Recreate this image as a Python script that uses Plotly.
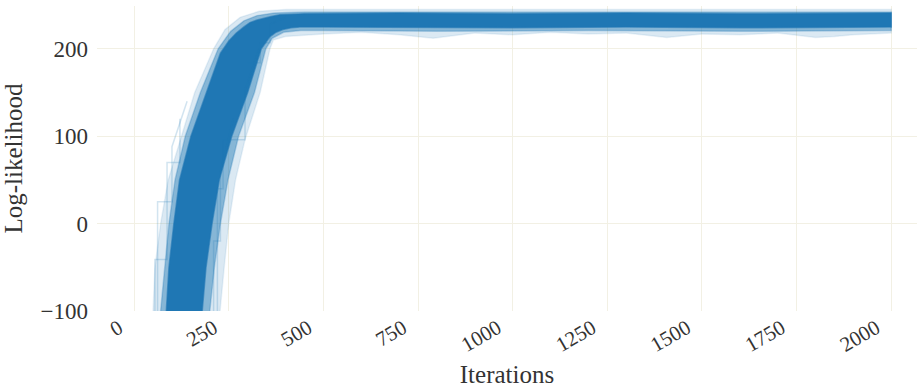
import plotly.graph_objects as go

# ---- data (iteration, log-likelihood) ----
# dense core of the walker bundle: left/top edge and right/bottom edge
core_up_x = [85, 92, 105, 120, 150, 190, 228, 250, 270, 290, 306, 325, 341, 362, 385, 450, 700, 1000, 1300, 1600, 2000]
core_up_y = [-100, -50, 0, 50, 100, 150, 195, 209, 218, 225, 230, 233, 235, 237, 239, 240, 241, 240, 241, 240, 241]
core_lo_x = [180, 190, 206, 225, 258, 300, 336, 350, 359, 375, 393, 415, 438, 500, 700, 1000, 1300, 1600, 2000]
core_lo_y = [-100, -50, 0, 50, 100, 150, 200, 208, 214, 219, 222, 224, 225, 225, 225, 224, 225, 224, 225]

# semi-dense layer
mid_up_x = [70, 80, 92, 108, 135, 175, 222, 255, 290, 325, 370, 450, 2000]
mid_up_y = [-100, -50, 0, 50, 100, 150, 200, 220, 232, 238, 241, 242, 242]
mid_lo_x = [200, 212, 228, 248, 276, 318, 348, 365, 395, 440, 500, 800, 1200, 1600, 2000]
mid_lo_y = [-100, -50, 0, 50, 100, 150, 200, 212, 219, 221, 221, 220, 221, 220, 221]

# faint halo (outlying walkers)
halo_up_x = [50, 55, 70, 90, 125, 160, 210, 240, 280, 330, 400, 2000]
halo_up_y = [-100, -50, 0, 50, 100, 150, 200, 222, 236, 243, 245, 245]
halo_lo_x = [227, 238, 250, 268, 293, 333, 359, 368, 400, 500, 600, 700, 790, 900, 1000,
             1100, 1200, 1300, 1407, 1500, 1600, 1700, 1800, 1850, 1900, 2000]
halo_lo_y = [-100, -50, 0, 50, 96, 150, 200, 210, 214, 217, 219, 216, 212, 218, 216,
             219, 217, 218, 213, 217, 216, 218, 213, 214, 216, 218]

# a few stuck walkers visible as step-shaped faint lines
stuck_a_x = [55, 55, 87, 87, 121, 121]
stuck_a_y = [-100, -41, -41, 70, 70, 120]
stuck_b_x = [220, 220, 235, 235, 293, 293, 330]
stuck_b_y = [-100, 40, 40, 96, 96, 153, 200]
stuck_c_x = [300, 333, 333, 359, 359, 400]
stuck_c_y = [184, 184, 207, 207, 228, 236]
stuck_d_x = [62, 62, 100, 100, 140]
stuck_d_y = [-100, 25, 25, 88, 140]
stuck_e_x = [210, 210, 228, 228, 262]
stuck_e_y = [-100, -20, -20, 60, 120]

x_ticks = [0, 250, 500, 750, 1000, 1250, 1500, 1750, 2000]
y_ticks = [-100, 0, 100, 200]

BLUE = "31,119,180"
FONT = "Liberation Serif"
TXT = "#333333"


def band(ux, uy, lx, ly, alpha):
    return go.Scatter(
        x=list(ux) + list(reversed(lx)),
        y=list(uy) + list(reversed(ly)),
        fill="toself",
        fillcolor=f"rgba({BLUE},{alpha})",
        line=dict(color=f"rgba({BLUE},{alpha * 0.6})", width=1.5),
        mode="lines",
        hoverinfo="skip",
        showlegend=False,
    )


fig = go.Figure()
fig.add_trace(band(halo_up_x, halo_up_y, halo_lo_x, halo_lo_y, 0.16))
fig.add_trace(band(mid_up_x, mid_up_y, mid_lo_x, mid_lo_y, 0.45))
fig.add_trace(band(core_up_x, core_up_y, core_lo_x, core_lo_y, 1.0))
for sx, sy in [(stuck_a_x, stuck_a_y), (stuck_b_x, stuck_b_y), (stuck_c_x, stuck_c_y),
               (stuck_d_x, stuck_d_y), (stuck_e_x, stuck_e_y)]:
    fig.add_trace(go.Scatter(x=sx, y=sy, mode="lines",
                             line=dict(color=f"rgba({BLUE},0.2)", width=1.5),
                             hoverinfo="skip", showlegend=False))

GRID = "#f2f0e4"
fig.update_layout(
    width=917, height=390,
    margin=dict(l=97, r=0, t=6, b=79),
    paper_bgcolor="white", plot_bgcolor="white",
    font=dict(family=FONT, color=TXT, size=22),
    xaxis=dict(
        range=[-98, 2068], tickvals=x_ticks, ticktext=[str(v) for v in x_ticks],
        tickangle=-30, showgrid=True, gridcolor=GRID, gridwidth=1, zeroline=False,
        showline=False, ticks="", ticklabelstandoff=0, ticklabelshift=-15, automargin=False,
        tickfont=dict(family=FONT, size=21, color=TXT),
        title=dict(text="Iterations", font=dict(family=FONT, size=25, color=TXT), standoff=9),
    ),
    yaxis=dict(
        range=[-100, 249], tickvals=y_ticks, ticktext=["−100", "0", "100", "200"],
        showgrid=True, gridcolor=GRID, gridwidth=1, zeroline=False,
        showline=False, ticks="", ticklabelstandoff=8, automargin=False,
        tickfont=dict(family=FONT, size=23, color=TXT),
        title=dict(text="Log-likelihood", font=dict(family=FONT, size=25, color=TXT), standoff=12),
    ),
)

fig.write_html("out.html", config={"displayModeBar": False},
               post_script="document.body.style.margin='0px';document.body.style.overflow='hidden';")
